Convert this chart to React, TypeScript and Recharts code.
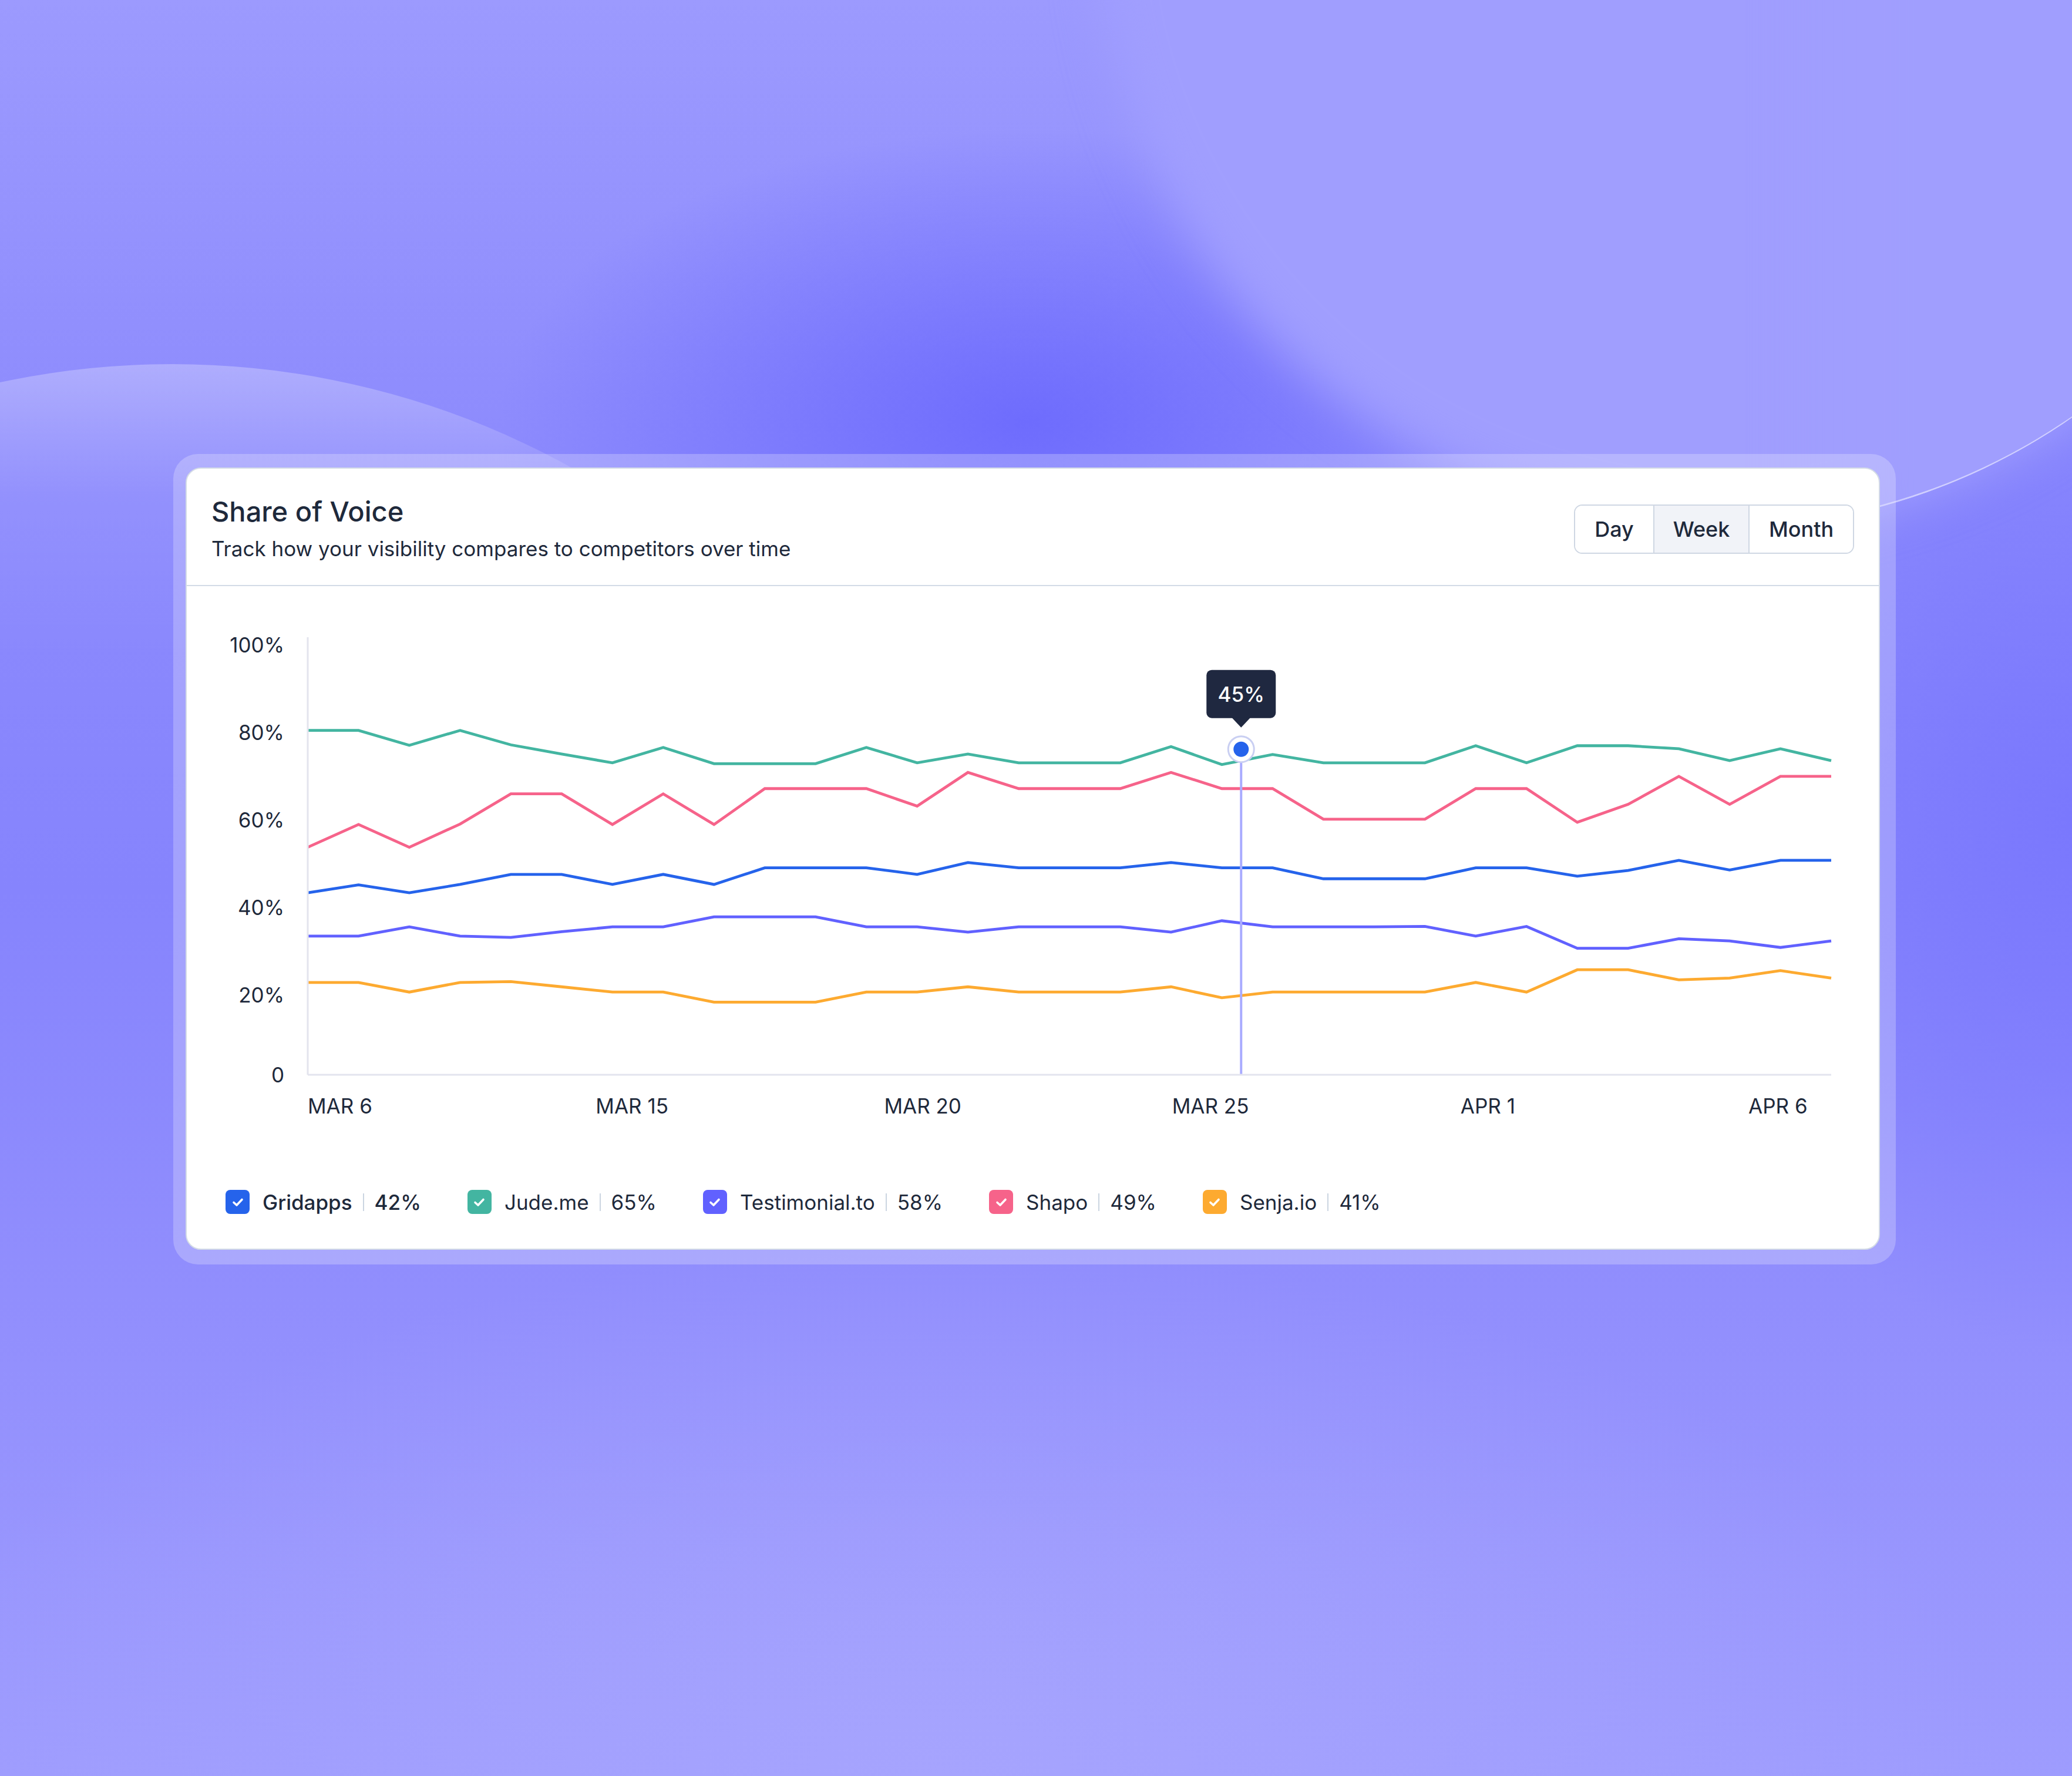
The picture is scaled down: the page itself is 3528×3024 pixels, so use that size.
import { LineChart, Line, XAxis, YAxis, ReferenceLine, ReferenceDot } from "recharts";

// one point per step
const gridapps = [41.6, 43.4, 41.6, 43.5, 45.8, 45.8, 43.5, 45.8, 43.5, 47.3, 47.3, 47.3, 45.8, 48.5, 47.3, 47.3, 47.3, 48.5, 47.3, 47.3, 44.8, 44.8, 44.8, 47.3, 47.3, 45.4, 46.7, 49.0, 46.8, 49.0, 49.0];
const judeMe = [78.7, 78.7, 75.3, 78.7, 75.4, 73.3, 71.3, 74.8, 71.1, 71.1, 71.1, 74.8, 71.3, 73.3, 71.3, 71.3, 71.3, 75.0, 70.9, 73.2, 71.3, 71.3, 71.3, 75.2, 71.3, 75.2, 75.2, 74.5, 71.8, 74.5, 71.8];
const testimonial = [31.7, 31.7, 33.8, 31.7, 31.4, 32.7, 33.8, 33.8, 36.1, 36.1, 36.1, 33.8, 33.8, 32.6, 33.8, 33.8, 33.8, 32.6, 35.2, 33.8, 33.8, 33.8, 33.9, 31.7, 33.9, 28.9, 28.9, 31.1, 30.6, 29.1, 30.6];
const shapo = [52.0, 57.2, 52.0, 57.3, 64.2, 64.2, 57.2, 64.2, 57.2, 65.4, 65.4, 65.4, 61.4, 69.1, 65.4, 65.4, 65.4, 69.1, 65.4, 65.4, 58.4, 58.4, 58.4, 65.4, 65.4, 57.7, 61.8, 68.2, 61.8, 68.2, 68.2];
const senja = [21.1, 21.1, 18.9, 21.1, 21.3, 20.1, 18.9, 18.9, 16.6, 16.6, 16.6, 18.9, 18.9, 20.1, 18.9, 18.9, 18.9, 20.1, 17.6, 18.9, 18.9, 18.9, 18.9, 21.1, 18.9, 24.0, 24.0, 21.7, 22.1, 23.8, 22.1];

const xTickLabels = ["MAR 6", "MAR 15", "MAR 20", "MAR 25", "APR 1", "APR 6"];
const xTickPositions = [0, 5.67, 11.35, 17.02, 22.7, 28.37];
const yTicks = [0, 20, 40, 60, 80, 100];

const seriesNames = ["Gridapps", "Jude.me", "Testimonial.to", "Shapo", "Senja.io"];
const seriesShares = ["42%", "65%", "58%", "49%", "41%"];
const rangeOptions = ["Day", "Week", "Month"];

const hoverIndex = 18.38;
const hoverValue = 74.4;
const hoverLabel = "45%";

const series = [
  { key: "gridapps", name: seriesNames[0], share: seriesShares[0], color: "#2563eb", values: gridapps },
  { key: "judeMe", name: seriesNames[1], share: seriesShares[1], color: "#43b5a1", values: judeMe },
  { key: "testimonial", name: seriesNames[2], share: seriesShares[2], color: "#6161ff", values: testimonial },
  { key: "shapo", name: seriesNames[3], share: seriesShares[3], color: "#f6638a", values: shapo },
  { key: "senja", name: seriesNames[4], share: seriesShares[4], color: "#fdaa30", values: senja },
];

const data = gridapps.map((_, i) => {
  const row: Record<string, number> = { i };
  series.forEach((s) => (row[s.key] = s.values[i]));
  return row;
});

const font = "Inter, 'Noto Sans', sans-serif";
const ink = "#1e293b";

const XTick = ({ x, y, index }: any) => (
  <text x={x} y={y} dy={53} textAnchor="start" dominantBaseline="central" fill={ink} fontSize={35} fontFamily={font}>
    {xTickLabels[index]}
  </text>
);

const YTick = ({ x, y, payload }: any) => (
  <text x={x} y={y} dx={-40} dy={payload.value === 0 ? 0 : 13} textAnchor="end" dominantBaseline="central" fill={ink} fontSize={35} fontFamily={font}>
    {payload.value === 0 ? "0" : `${payload.value}%`}
  </text>
);

const HoverMarker = ({ cx, cy }: any) => (
  <g>
    <rect x={cx - 59} y={cy - 135} width={118} height={82} rx={9} fill="#1f2840" />
    <path d={`M ${cx - 16} ${cy - 54} L ${cx} ${cy - 37} L ${cx + 16} ${cy - 54} Z`} fill="#1f2840" />
    <text x={cx} y={cy - 94} textAnchor="middle" dominantBaseline="central" fill="#fff" fontSize={35} fontWeight={500} fontFamily={font}>
      {hoverLabel}
    </text>
    <circle cx={cx} cy={cy} r={22} fill="#fff" stroke="#c9cff2" strokeWidth={3} />
    <circle cx={cx} cy={cy} r={13} fill="#2563eb" />
  </g>
);

function Check({ color }: { color: string }) {
  return (
    <div style={{ width: 41, height: 41, borderRadius: 8, background: color, display: "flex", alignItems: "center", justifyContent: "center" }}>
      <svg width="22" height="22" viewBox="0 0 22 22">
        <path d="M4 11.5 L9 16 L18 6.5" fill="none" stroke="#fff" strokeWidth={3.6} strokeLinecap="round" strokeLinejoin="round" />
      </svg>
    </div>
  );
}

export default function App() {
  return (
    <div
      style={{
        position: "absolute",
        left: 0,
        top: 0,
        width: 3528,
        height: 3024,
        overflow: "hidden",
        fontFamily: font,
        background:
          "radial-gradient(ellipse 900px 500px at 1750px 720px, #6e6cfd 0%, rgba(110,108,253,0) 100%)," +
          "radial-gradient(ellipse 700px 900px at 3528px 1400px, #7a78fd 0%, rgba(122,120,253,0) 100%)," +
          "radial-gradient(ellipse 1800px 900px at 1600px 3024px, #a6a4fe 0%, rgba(166,164,254,0) 100%)," +
          "linear-gradient(180deg, #9c9afe 0%, #8d8bfd 25%, #8684fd 50%, #928ffd 75%, #9e9cfe 100%)",
      }}
    >
      {/* big soft circle, top right */}
      <div
        style={{
          position: "absolute",
          left: 1867,
          top: -1216,
          width: 2116,
          height: 2116,
          borderRadius: "50%",
          background: "#a09efe",
          filter: "blur(40px)",
        }}
      />
      <div
        style={{
          position: "absolute",
          left: 1867,
          top: -1216,
          width: 2116,
          height: 2116,
          borderRadius: "50%",
          background: "#a09efe",
          borderBottom: "3px solid rgba(255,255,255,0.5)",
          boxSizing: "border-box",
          WebkitMaskImage: "linear-gradient(90deg, rgba(0,0,0,0) 52%, #000 66%)",
          maskImage: "linear-gradient(90deg, rgba(0,0,0,0) 52%, #000 66%)",
        }}
      />
      {/* big circle, left */}
      <div
        style={{
          position: "absolute",
          left: -1107,
          top: 620,
          width: 2800,
          height: 2800,
          borderRadius: "50%",
          background: "linear-gradient(180deg, rgba(255,255,255,0.28) 0%, rgba(255,255,255,0.06) 8%, rgba(255,255,255,0) 18%)",
        }}
      />

      {/* frame */}
      <div style={{ position: "absolute", left: 295, top: 773, width: 2933, height: 1380, borderRadius: 42, background: "rgba(255,255,255,0.24)" }} />

      {/* card */}
      <div
        style={{
          position: "absolute",
          left: 316,
          top: 796,
          width: 2885,
          height: 1332,
          borderRadius: 26,
          background: "#fff",
          border: "2px solid #d3dbe6",
          boxSizing: "border-box",
          color: ink,
        }}
      >
        <div style={{ position: "absolute", left: 42, top: 49, fontSize: 47, lineHeight: "48px", fontWeight: 500 }}>Share of Voice</div>
        <div style={{ position: "absolute", left: 42, top: 118, fontSize: 35, lineHeight: "36px" }}>
          Track how your visibility compares to competitors over time
        </div>

        <div
          style={{
            position: "absolute",
            left: 2362,
            top: 61,
            height: 84,
            display: "flex",
            border: "2px solid #cfd7e3",
            borderRadius: 14,
            overflow: "hidden",
            boxSizing: "border-box",
          }}
        >
          {rangeOptions.map((o, i) => (
            <div
              key={o}
              style={{
                width: [133, 160, 176][i],
                display: "flex",
                alignItems: "center",
                justifyContent: "center",
                fontSize: 36,
                fontWeight: 500,
                background: o === "Week" ? "#f1f3f8" : "#fff",
                borderLeft: i > 0 ? "2px solid #cfd7e3" : "none",
              }}
            >
              {o}
            </div>
          ))}
        </div>

        <div style={{ position: "absolute", left: 0, right: 0, top: 198, height: 2, background: "#d3dbe6" }} />

        <div style={{ position: "absolute", left: 24, top: 244 }}>
          <LineChart width={2816} height={888} data={data} margin={{ top: 43, right: 40, left: 0, bottom: 0 }}>
            <XAxis
              dataKey="i"
              type="number"
              domain={[0, 30]}
              ticks={xTickPositions}
              interval={0}
              tick={<XTick />}
              tickLine={false}
              tickSize={0}
              tickMargin={0}
              height={100}
              axisLine={{ stroke: "#e3e4ee", strokeWidth: 3 }}
            />
            <YAxis
              domain={[0, 100]}
              ticks={yTicks}
              interval={0}
              tick={<YTick />}
              tickLine={false}
              tickSize={0}
              tickMargin={0}
              width={182}
              axisLine={{ stroke: "#e3e4ee", strokeWidth: 3 }}
            />
            {series.map((s) => (
              <Line
                key={s.key}
                type="linear"
                dataKey={s.key}
                stroke={s.color}
                strokeWidth={4.8}
                dot={false}
                activeDot={false}
                isAnimationActive={false}
              />
            ))}
            <ReferenceLine
              segment={[
                { x: hoverIndex, y: 0 },
                { x: hoverIndex, y: hoverValue },
              ]}
              stroke="#a9abff"
              strokeWidth={4}
            />
            <ReferenceDot x={hoverIndex} y={hoverValue} r={22} shape={(p: any) => <HoverMarker {...p} />} />
          </LineChart>
        </div>

        <div style={{ position: "absolute", left: 66, top: 1228, height: 41, display: "flex", alignItems: "center", gap: 79 }}>
          {series.map((s, i) => (
            <div key={s.key} style={{ display: "flex", alignItems: "center", fontSize: 35, fontWeight: i === 0 ? 500 : 400 }}>
              <Check color={s.color} />
              <span style={{ marginLeft: 22 }}>{s.name}</span>
              <span style={{ width: 2, height: 30, background: "#cbd5e1", margin: "0 18px 0 18px" }} />
              <span>{s.share}</span>
            </div>
          ))}
        </div>
      </div>
    </div>
  );
}
